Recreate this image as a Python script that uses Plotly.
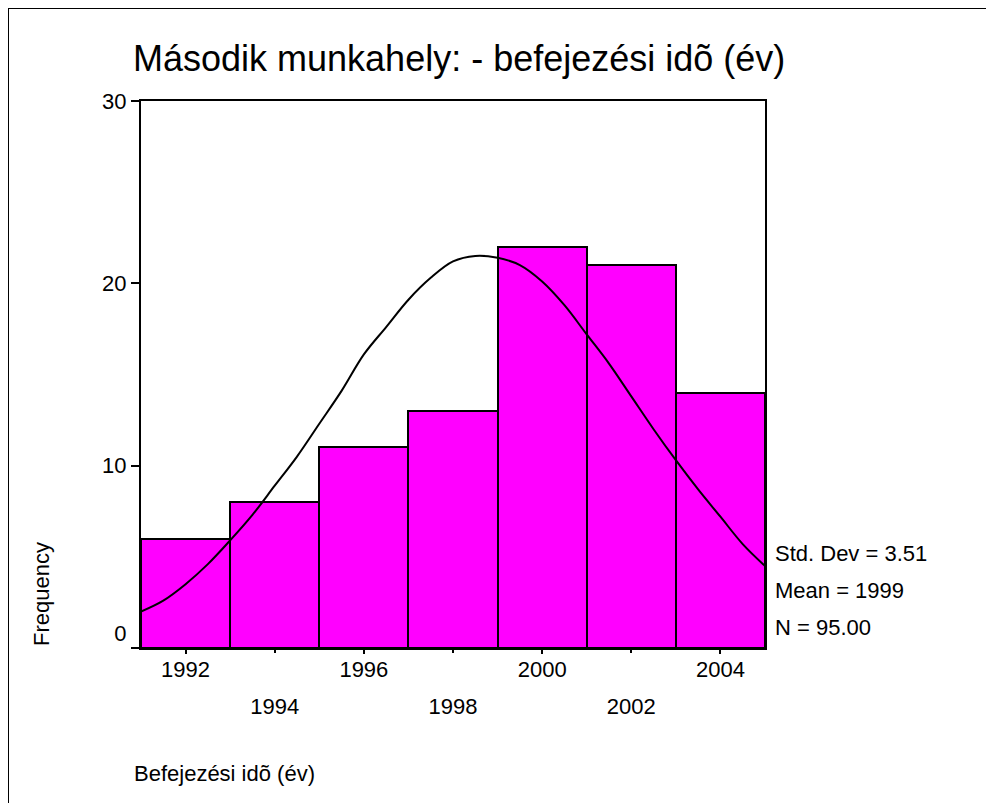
import plotly.graph_objects as go

# ---- data ----
bin_centers = [1992, 1994, 1996, 1998, 2000, 2002, 2004]
frequencies = [6, 8, 11, 13, 22, 21, 14]
bin_width = 2

curve_x = [1991.0, 1991.5, 1992.0, 1992.5, 1993.0, 1993.5, 1994.0, 1994.5, 1995.0,
           1995.5, 1996.0, 1996.5, 1997.0, 1997.5, 1998.0, 1998.5, 1999.0, 1999.5,
           2000.0, 2000.5, 2001.0, 2001.5, 2002.0, 2002.5, 2003.0, 2003.5, 2004.0,
           2004.5, 2005.0]
curve_y = [2.0, 2.6, 3.5, 4.6, 5.9, 7.3, 8.9, 10.5, 12.3,
           14.1, 16.1, 17.6, 19.1, 20.3, 21.2, 21.5, 21.4, 21.0,
           20.1, 18.8, 17.2, 15.6, 13.8, 12.0, 10.3, 8.7, 7.2,
           5.7, 4.5]

row1_ticks = [1992, 1996, 2000, 2004]
row2_ticks = [1994, 1998, 2002]
y_ticks = [0, 10, 20, 30]
y_ticktext = ["0<br> ", "10", "20", "30"]

std_dev = "3.51"
mean_val = "1999"
n_val = "95.00"

title_text = "Második munkahely: - befejezési idõ (év)"
x_title = "Befejezési idõ (év)"
y_title = "Frequency"

FONT = "Liberation Sans, Arial, sans-serif"
FS = 22

fig = go.Figure()
fig.add_trace(go.Bar(
    x=bin_centers, y=frequencies, width=[bin_width] * len(bin_centers),
    marker=dict(color="#FF00FF", line=dict(color="black", width=2)),
    showlegend=False, hoverinfo="x+y"))
fig.add_trace(go.Scatter(
    x=curve_x, y=curve_y, mode="lines", line=dict(color="black", width=2, shape="spline"),
    showlegend=False, hoverinfo="skip"))
# invisible trace to activate second x axis for the second row of tick labels
fig.add_trace(go.Scatter(x=[row2_ticks[0]], y=[0], xaxis="x2", mode="markers",
                         marker=dict(opacity=0), showlegend=False, hoverinfo="skip"))

# page has an 8px body margin; work in reference pixel coordinates
OX, OY = 8, 8
W, H = 986, 795
L, T = 141 - OX, 101 - OY
pw, ph = 624, 547
R = W - L - pw
B = H - T - ph

def px_x(p):
    return (p - OX - L) / pw

def px_y(p):
    return (T + ph - (p - OY)) / ph

fig.update_layout(
    width=W, height=H,
    margin=dict(l=L, r=R, t=T, b=B, pad=0),
    paper_bgcolor="white", plot_bgcolor="white",
    bargap=0,
    font=dict(family=FONT, color="black", size=FS),
    title=dict(text=title_text, x=(133 - OX) / W, xanchor="left",
               y=1 - (58 - OY) / H, yanchor="middle",
               font=dict(size=36, family=FONT, color="black")),
    xaxis=dict(range=[1991, 2005], tickvals=row1_ticks, ticktext=[str(v) for v in row1_ticks],
               ticks="outside", ticklen=4, tickwidth=2, tickcolor="black",
               showline=True, mirror=True, linewidth=2, linecolor="black",
               showgrid=False, zeroline=False, ticklabelstandoff=-3,
               tickfont=dict(size=FS)),
    xaxis2=dict(range=[1991, 2005], overlaying="x", anchor="y", side="bottom",
                tickvals=row2_ticks, ticktext=[str(v) for v in row2_ticks],
                ticks="outside", ticklen=4, tickwidth=2, tickcolor="black",
                showline=False, showgrid=False, zeroline=False, ticklabelstandoff=35,
                tickfont=dict(size=FS)),
    yaxis=dict(range=[0, 30], tickvals=y_ticks, ticktext=y_ticktext,
               ticks="outside", ticklen=8, tickwidth=2, tickcolor="black",
               showline=True, mirror=True, linewidth=2, linecolor="black",
               showgrid=False, zeroline=False, tickfont=dict(size=FS)),
)

anns = [
    dict(text=y_title, x=px_x(41), y=px_y(594), textangle=-90),
    dict(text=x_title, x=px_x(132), y=px_y(773), xanchor="left"),
    dict(text=f"Std. Dev = {std_dev}", x=px_x(773), y=px_y(553), xanchor="left"),
    dict(text=f"Mean = {mean_val}", x=px_x(773), y=px_y(590), xanchor="left"),
    dict(text=f"N = {n_val}", x=px_x(773), y=px_y(627), xanchor="left"),
]
for a in anns:
    a.update(xref="paper", yref="paper", showarrow=False, font=dict(size=FS),
             xanchor=a.get("xanchor", "center"), yanchor="middle")
fig.update_layout(annotations=anns)

# outer frame (left and top edges of the chart border)
fig.add_shape(type="line", xref="paper", yref="paper",
              x0=px_x(8), x1=px_x(8), y0=px_y(8), y1=px_y(812),
              line=dict(color="black", width=2))
fig.add_shape(type="line", xref="paper", yref="paper",
              x0=px_x(8), x1=px_x(1004), y0=px_y(8), y1=px_y(8),
              line=dict(color="black", width=2))

fig.write_html("out.html")
